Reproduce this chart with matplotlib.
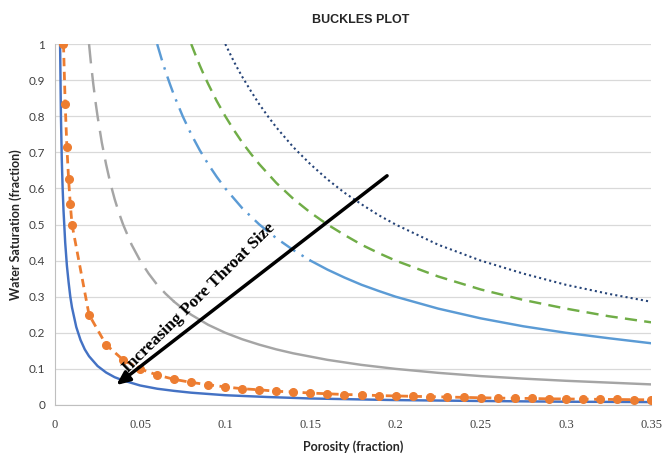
import matplotlib
matplotlib.use("Agg")
import matplotlib.pyplot as plt

# ---- data ----
phi_blue = [0.003, 0.0035, 0.004, 0.0045, 0.005, 0.006, 0.007, 0.008, 0.009, 0.01, 0.0125, 0.015,
            0.0175, 0.02, 0.025, 0.03, 0.035, 0.04, 0.05, 0.06, 0.07, 0.08, 0.1, 0.125, 0.15,
            0.2, 0.25, 0.3, 0.35]
sw_blue = [1.0, 0.8, 0.68, 0.6, 0.54, 0.45, 0.386, 0.34, 0.3, 0.27, 0.216, 0.18,
           0.154, 0.135, 0.108, 0.09, 0.077, 0.068, 0.054, 0.045, 0.039, 0.034, 0.027, 0.022,
           0.018, 0.0135, 0.011, 0.009, 0.008]

phi_orange = [0.005, 0.006, 0.007, 0.008, 0.009, 0.01,
              0.02, 0.03, 0.04, 0.05, 0.06, 0.07, 0.08, 0.09, 0.10, 0.11, 0.12, 0.13, 0.14,
              0.15, 0.16, 0.17, 0.18, 0.19, 0.20, 0.21, 0.22, 0.23, 0.24, 0.25, 0.26, 0.27,
              0.28, 0.29, 0.30, 0.31, 0.32, 0.33, 0.34, 0.35]
sw_orange = [1.0, 0.833, 0.714, 0.625, 0.556, 0.5,
             0.25, 0.167, 0.125, 0.1, 0.083, 0.071, 0.0625, 0.056, 0.05, 0.045, 0.042, 0.038,
             0.036, 0.033, 0.031, 0.029, 0.028, 0.026, 0.025, 0.024, 0.023, 0.022, 0.021,
             0.020, 0.019, 0.0185, 0.018, 0.017, 0.0167, 0.016, 0.0156, 0.0152, 0.0147, 0.0143]

phi_gray_dash = [0.02, 0.021, 0.0225, 0.024, 0.025, 0.0275, 0.03, 0.0325, 0.035, 0.0375, 0.04,
                 0.045, 0.05, 0.055, 0.06, 0.065, 0.07]
sw_gray_dash = [1.0, 0.952, 0.889, 0.833, 0.8, 0.727, 0.667, 0.615, 0.571, 0.533, 0.5,
                0.444, 0.4, 0.364, 0.333, 0.308, 0.286]
phi_gray = [0.07, 0.075, 0.08, 0.09, 0.1, 0.11, 0.12, 0.13, 0.14, 0.16, 0.18, 0.2, 0.225, 0.25,
            0.275, 0.3, 0.325, 0.35]
sw_gray = [0.286, 0.267, 0.25, 0.222, 0.2, 0.182, 0.167, 0.154, 0.143, 0.125, 0.111, 0.1,
           0.089, 0.08, 0.073, 0.067, 0.062, 0.057]

phi_lblue_dash = [0.06, 0.0625, 0.065, 0.0675, 0.07, 0.075, 0.08, 0.085, 0.09, 0.095, 0.1,
                  0.11, 0.12, 0.13, 0.14, 0.15]
sw_lblue_dash = [1.0, 0.96, 0.923, 0.889, 0.857, 0.8, 0.75, 0.706, 0.667, 0.632, 0.6,
                 0.545, 0.5, 0.462, 0.429, 0.4]
phi_lblue = [0.15, 0.16, 0.17, 0.18, 0.19, 0.2, 0.225, 0.25, 0.275, 0.3, 0.325, 0.35]
sw_lblue = [0.4, 0.375, 0.353, 0.333, 0.316, 0.3, 0.267, 0.24, 0.218, 0.2, 0.185, 0.171]

phi_green = [0.08, 0.0825, 0.085, 0.0875, 0.09, 0.095, 0.1, 0.105, 0.11, 0.115, 0.12, 0.13,
             0.14, 0.15, 0.16, 0.17, 0.18, 0.19, 0.2, 0.225, 0.25, 0.275, 0.3, 0.325, 0.35]
sw_green = [1.0, 0.97, 0.941, 0.914, 0.889, 0.842, 0.8, 0.762, 0.727, 0.696, 0.667, 0.615,
            0.571, 0.533, 0.5, 0.471, 0.444, 0.421, 0.4, 0.356, 0.32, 0.291, 0.267, 0.246, 0.229]

phi_dark = [0.1, 0.1025, 0.105, 0.1075, 0.11, 0.115, 0.12, 0.125, 0.13, 0.14, 0.15, 0.16, 0.17,
            0.18, 0.19, 0.2, 0.225, 0.25, 0.275, 0.3, 0.325, 0.35]
sw_dark = [1.0, 0.976, 0.952, 0.93, 0.909, 0.87, 0.833, 0.8, 0.769, 0.714, 0.667, 0.625, 0.588,
           0.556, 0.526, 0.5, 0.444, 0.4, 0.364, 0.333, 0.308, 0.286]

x_ticks = [0, 0.05, 0.1, 0.15, 0.2, 0.25, 0.3, 0.35]
x_tick_labels = ["0", "0.05", "0.1", "0.15", "0.2", "0.25", "0.3", "0.35"]
y_ticks = [0, 0.1, 0.2, 0.3, 0.4, 0.5, 0.6, 0.7, 0.8, 0.9, 1.0]
y_tick_labels = ["0", "0.1", "0.2", "0.3", "0.4", "0.5", "0.6", "0.7", "0.8", "0.9", "1"]

arrow_start = (0.195, 0.635)
arrow_end = (0.036, 0.055)
annotation_text = "Increasing Pore Throat Size"
annotation_pos = (0.0846, 0.296)

# ---- figure ----
fig = plt.figure(figsize=(6.68, 4.54), dpi=100)
ax = fig.add_axes([0.0823, 0.108, 0.8923, 0.795])

ax.plot(phi_dark, sw_dark, color="#264478", lw=1.5, ls=(0, (1, 1.5)), zorder=3)
ax.plot(phi_green, sw_green, color="#70AD47", lw=1.75, ls=(0, (5, 3)), zorder=3)
ax.plot(phi_lblue_dash, sw_lblue_dash, color="#5B9BD5", lw=1.75, ls=(0, (7, 3, 1, 3)), zorder=3)
ax.plot(phi_lblue, sw_lblue, color="#5B9BD5", lw=1.75, zorder=3)
ax.plot(phi_gray_dash, sw_gray_dash, color="#A5A5A5", lw=1.75, ls=(0, (8, 4)), zorder=3)
ax.plot(phi_gray, sw_gray, color="#A5A5A5", lw=1.75, zorder=3)
ax.plot(phi_blue, sw_blue, color="#4472C4", lw=1.75, zorder=4)
ax.plot(phi_orange, sw_orange, color="#ED7D31", lw=2.0, ls=(0, (3, 2)),
        marker="o", ms=5.5, zorder=5)

ax.annotate("", xy=arrow_end, xytext=arrow_start,
            arrowprops=dict(arrowstyle="-|>,head_length=0.8,head_width=0.35",
                            color="black", lw=2.5, shrinkA=0, shrinkB=0), zorder=6)
ax.text(annotation_pos[0], annotation_pos[1], annotation_text, rotation=44.5,
        ha="center", va="center", rotation_mode="anchor",
        fontsize=12.5, fontweight="bold", family="Liberation Serif", zorder=7)

ax.set_xlim(0, 0.35)
ax.set_ylim(0, 1)
ax.set_xticks(x_ticks)
ax.set_xticklabels(x_tick_labels)
ax.set_yticks(y_ticks)
ax.set_yticklabels(y_tick_labels)
ax.tick_params(axis="x", length=0, pad=10, labelsize=9, labelcolor="#404040",
               labelfontfamily="Liberation Serif")
ax.tick_params(axis="y", length=0, pad=7, labelsize=8.5, labelcolor="#404040",
               labelfontfamily="Lato")
ax.grid(axis="y", color="#D9D9D9", lw=0.9)
ax.set_axisbelow(True)
for s in ["top", "right"]:
    ax.spines[s].set_visible(False)
ax.spines["left"].set_color("#BFBFBF")
ax.spines["bottom"].set_color("#BFBFBF")

ax.set_xlabel("Porosity (fraction)", fontsize=9, fontweight="bold",
              family="Lato", color="#262626")
ax.set_ylabel("Water Saturation (fraction)", fontsize=9, fontweight="bold",
              family="Lato", color="#262626")
ax.xaxis.set_label_coords(0.5, -0.097)
ax.yaxis.set_label_coords(-0.056, 0.5)
fig.text(0.54, 0.956, "BUCKLES PLOT", ha="center", va="center",
         fontsize=9, fontweight="bold", family="Liberation Sans", color="#262626")

fig.savefig("out.png", dpi=100)
